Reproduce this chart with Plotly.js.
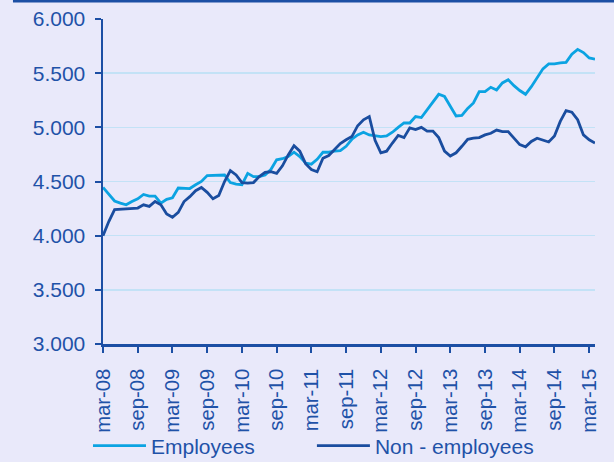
<!DOCTYPE html>
<html>
<head>
<meta charset="utf-8">
<script src="https://cdn.plot.ly/plotly-3.0.1.min.js"></script>
<style>
  html, body { margin: 0; padding: 0; background: #e9e9fa; }
  #chart { width: 614px; height: 462px; }
</style>
</head>
<body>
<div id="chart"></div>
<script>
// Month categories: mar-08 .. apr-15
const monthNames = ['jan','feb','mar','apr','may','jun','jul','aug','sep','oct','nov','dec'];
const months = [];
for (let y = 2008, m = 2; !(y === 2015 && m === 4); ) {
  months.push(monthNames[m] + '-' + String(y % 100).padStart(2, '0'));
  m++; if (m === 12) { m = 0; y++; }
}

const tickLabels = ['mar-08','sep-08','mar-09','sep-09','mar-10','sep-10','mar-11',
  'sep-11','mar-12','sep-12','mar-13','sep-13','mar-14','sep-14','mar-15'];

const employees = [
  4445,4380,4320,4300,4285,4315,4340,4380,4365,4365,4300,4335,
  4350,4440,4440,4435,4470,4500,4555,4555,4555,4560,4490,4475,
  4470,4575,4545,4545,4560,4610,4700,4710,4730,4770,4730,4670,
  4660,4705,4770,4770,4780,4785,4825,4890,4930,4955,4930,4920,
  4915,4920,4955,5000,5040,5040,5100,5090,5160,5225,5305,5285,
  5195,5105,5110,5175,5225,5330,5330,5370,5345,5410,5440,5385,
  5340,5305,5375,5455,5540,5585,5585,5595,5600,5675,5720,5690,
  5640,5630
];

const nonEmployees = [
  4000,4130,4240,4245,4245,4255,4255,4285,4270,4315,4285,4200,
  4170,4215,4315,4360,4415,4445,4400,4340,4370,4500,4600,4560,
  4490,4485,4490,4545,4585,4590,4575,4645,4745,4830,4780,4665,
  4610,4590,4715,4740,4800,4850,4885,4915,5015,5070,5100,4880,
  4765,4780,4855,4925,4905,4995,4980,5000,4965,4965,4905,4780,
  4735,4765,4825,4890,4900,4905,4930,4945,4975,4960,4960,4895,
  4840,4820,4870,4900,4885,4865,4920,5055,5155,5140,5070,4930,
  4885,4855
];

const textColor = '#1f52a8';
const axisColor = '#1c4fa4';

const traces = [
  { x: months, y: employees, type: 'scatter', mode: 'lines', name: 'Employees',
    line: { color: '#0ba3e2', width: 2.8 }, legend: 'legend' },
  { x: months, y: nonEmployees, type: 'scatter', mode: 'lines', name: 'Non - employees',
    line: { color: '#1a4d9f', width: 2.8 }, legend: 'legend2' }
];

const font = { family: 'Liberation Sans, Arial, sans-serif', size: 21, color: textColor };
const xFont = { family: 'Liberation Sans, Arial, sans-serif', size: 20.3, color: textColor };

const layout = {
  width: 614, height: 462,
  margin: { l: 103, r: 19, t: 19, b: 118, pad: 0 },
  paper_bgcolor: '#e9e9fa',
  plot_bgcolor: '#e9e9fa',
  separators: ',.',
  font: font,
  showlegend: true,
  xaxis: {
    type: 'category',
    range: [0, months.length - 1],
    tickmode: 'array',
    tickvals: tickLabels,
    ticktext: tickLabels,
    tickangle: -90,
    ticks: 'outside', ticklen: 6, tickwidth: 2, tickcolor: axisColor,
    showline: true, linecolor: axisColor, linewidth: 2.5,
    showgrid: false, zeroline: false,
    automargin: false,
    ticklabelstandoff: 8,
    tickfont: xFont,
    fixedrange: true
  },
  yaxis: {
    range: [3000, 6000],
    dtick: 500, tick0: 3000,
    tickformat: ',.0f',
    ticks: 'outside', ticklen: 6, tickwidth: 2, tickcolor: axisColor,
    showline: true, linecolor: axisColor, linewidth: 2.5,
    showgrid: true, gridcolor: '#c3e2f6', gridwidth: 1.5,
    zeroline: false,
    automargin: false,
    ticklabelstandoff: 5,
    tickfont: font,
    fixedrange: true
  },
  legend: {
    xref: 'container', yref: 'container',
    x: 0.1433, xanchor: 'left', y: 0.0346, yanchor: 'middle',
    orientation: 'h', bgcolor: 'rgba(0,0,0,0)', font: font, itemwidth: 53
  },
  legend2: {
    xref: 'container', yref: 'container',
    x: 0.508, xanchor: 'left', y: 0.0346, yanchor: 'middle',
    orientation: 'h', bgcolor: 'rgba(0,0,0,0)', font: font, itemwidth: 53
  },
  shapes: [
    { type: 'line', xref: 'paper', yref: 'paper',
      x0: -0.183, x1: 1.04, y0: 1.0548, y1: 1.0548,
      line: { color: axisColor, width: 2.5 } }
  ]
};

Plotly.newPlot('chart', traces, layout, { displayModeBar: false, staticPlot: true });
</script>
</body>
</html>
